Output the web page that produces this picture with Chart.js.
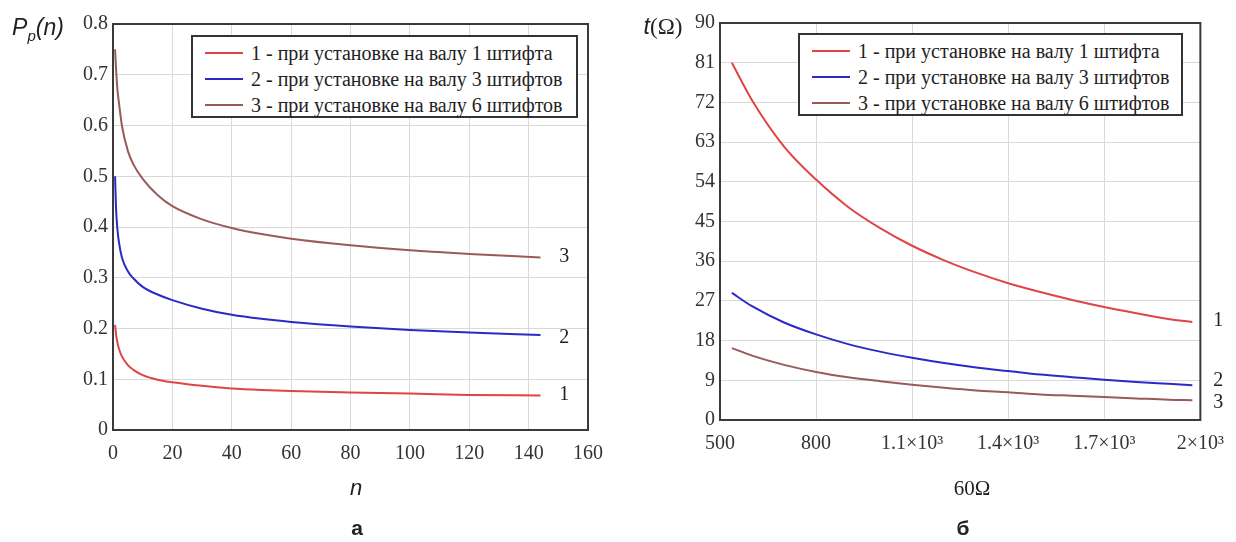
<!DOCTYPE html>
<html>
<head>
<meta charset="utf-8">
<script src="https://cdn.jsdelivr.net/npm/chart.js@4.4.0/dist/chart.umd.min.js"></script>
<style>
    body { margin: 0; background: #fff; width: 1236px; height: 542px; position: relative; overflow: hidden; }
    .wrap { position: absolute; top: 0; height: 542px; }
    .lbl { position: absolute; transform: translate(-50%, -50%); white-space: nowrap; color: #222; }
    .legend { position: absolute; border: 2px solid #333; background: #fff; box-sizing: border-box;
              padding: 3px 0 0 12px; font-family: 'Liberation Serif', serif; font-size: 20px; color: #222; }
    .legend .row { height: 26px; display: flex; align-items: center; }
    .legend .swatch { width: 38px; height: 2px; margin-right: 8px; }
</style>
</head>
<body>
<div class="wrap" style="left:0;width:615px"><canvas id="chartA" width="615" height="542"></canvas></div>
<div class="wrap" style="left:615px;width:621px"><canvas id="chartB" width="621" height="542"></canvas></div>

<div class="legend" id="legendA" style="left:191px;top:35px;width:387px;height:83px"></div>
<div class="legend" id="legendB" style="left:798px;top:33px;width:385px;height:83px"></div>

<div class="lbl" style="left:38px;top:29px;font:italic 23px 'Liberation Sans',sans-serif">P<sub style="font-size:15px">p</sub>(n)</div>
<div class="lbl" style="left:356px;top:488px;font:italic 22px 'Liberation Sans',sans-serif">n</div>
<div class="lbl" style="left:357px;top:528px;font:bold 21px 'Liberation Sans',sans-serif">а</div>

<div class="lbl" style="left:663px;top:26px;font:23px 'Liberation Serif',serif"><i style="font-family:'Liberation Sans',sans-serif">t</i>(Ω)</div>
<div class="lbl" style="left:972px;top:488px;font:21px 'Liberation Serif',serif">60Ω</div>
<div class="lbl" style="left:963px;top:528px;font:bold 21px 'Liberation Sans',sans-serif">б</div>

<script>
// ---- data: chart а (P_p(n)) ----
const nValues = [0.7, 1, 1.5, 2, 3, 5, 7, 10, 15, 20, 30, 40, 50, 60, 80, 100, 120, 144];
const pp1 = [0.207, 0.19, 0.172, 0.16, 0.145, 0.128, 0.118, 0.108, 0.099, 0.094, 0.087, 0.082, 0.079, 0.077, 0.074, 0.072, 0.069, 0.068];
const pp3 = [0.50, 0.44, 0.395, 0.37, 0.34, 0.313, 0.298, 0.282, 0.267, 0.256, 0.239, 0.227, 0.219, 0.213, 0.204, 0.197, 0.192, 0.187];
const pp6 = [0.75, 0.715, 0.67, 0.645, 0.60, 0.55, 0.522, 0.495, 0.463, 0.441, 0.415, 0.398, 0.386, 0.377, 0.364, 0.354, 0.347, 0.340];

// ---- data: chart б (t(Ω)) ----
const omegaValues = [537, 600, 700, 800, 900, 1000, 1100, 1200, 1300, 1400, 1500, 1600, 1700, 1800, 1900, 1975];
const t1 = [81, 72.5, 62, 54.5, 48.3, 43.5, 39.5, 36.2, 33.4, 31.0, 29.0, 27.2, 25.6, 24.2, 22.9, 22.2];
const t3 = [28.8, 25.8, 22.1, 19.4, 17.2, 15.5, 14.1, 12.9, 11.9, 11.1, 10.3, 9.7, 9.1, 8.6, 8.2, 7.9];
const t6 = [16.3, 14.6, 12.5, 10.9, 9.7, 8.8, 8.0, 7.3, 6.7, 6.3, 5.8, 5.5, 5.2, 4.9, 4.6, 4.5];

const seriesLabels = [
    '1 - при установке на валу 1 штифта',
    '2 - при установке на валу 3 штифтов',
    '3 - при установке на валу 6 штифтов'
];
const seriesColors = ['#e04444', '#2a2ac8', '#9a5a5a'];
const curveNames = ['1', '2', '3'];

const tickFont = { family: "'Liberation Serif', serif", size: 20 };
const gridColor = '#d9d9d9';

function toPoints(xs, ys) {
    return xs.map((x, i) => ({ x: x, y: ys[i] }));
}

function makeDatasets(xs, seriesList) {
    return seriesList.map((ys, i) => ({
        label: seriesLabels[i],
        data: toPoints(xs, ys),
        borderColor: seriesColors[i],
        borderWidth: 2,
        pointRadius: 0,
        cubicInterpolationMode: 'monotone',
        fill: false
    }));
}

// dark frame around the plot area
const framePlugin = {
    id: 'frame',
    beforeDatasetsDraw(chart) {
        const a = chart.chartArea;
        const ctx = chart.ctx;
        ctx.save();
        ctx.strokeStyle = '#3a3a3a';
        ctx.lineWidth = 2;
        ctx.strokeRect(a.left, a.top, a.right - a.left, a.bottom - a.top);
        ctx.restore();
    }
};

// curve numbers next to line ends
const curveNumberPlugin = {
    id: 'curveNumbers',
    afterDraw(chart, args, opts) {
        const ctx = chart.ctx;
        const xs = chart.scales.x;
        const ys = chart.scales.y;
        ctx.save();
        ctx.font = "20px 'Liberation Serif', serif";
        ctx.fillStyle = '#222';
        ctx.textAlign = 'center';
        ctx.textBaseline = 'middle';
        opts.anchorsY.forEach((v, i) => {
            ctx.fillText(curveNames[i], xs.getPixelForValue(opts.anchorX), ys.getPixelForValue(v));
        });
        ctx.restore();
    }
};

function buildChart(canvasId, datasets, cfg) {
    const ctx = document.getElementById(canvasId).getContext('2d');
    return new Chart(ctx, {
        type: 'line',
        data: { datasets: datasets },
        options: {
            responsive: false,
            animation: false,
            events: [],
            layout: { padding: cfg.padding },
            plugins: {
                legend: { display: false },
                tooltip: { enabled: false },
                curveNumbers: cfg.numbers
            },
            scales: {
                x: {
                    type: 'linear',
                    min: cfg.xMin, max: cfg.xMax,
                    afterFit: s => { s.height = cfg.xAxisHeight; },
                    afterBuildTicks: s => { s.ticks = cfg.xTicks.map(v => ({ value: v })); },
                    grid: { color: gridColor, drawTicks: false },
                    border: { display: false },
                    ticks: { font: tickFont, color: '#333', padding: 12, maxRotation: 0, autoSkip: false, callback: cfg.xFormat }
                },
                y: {
                    min: cfg.yMin, max: cfg.yMax,
                    afterFit: s => { s.width = cfg.yAxisWidth; },
                    afterBuildTicks: s => { s.ticks = cfg.yTicks.map(v => ({ value: v })); },
                    grid: { color: gridColor, drawTicks: false },
                    border: { display: false },
                    ticks: { font: tickFont, color: '#333', padding: 5, autoSkip: false, callback: cfg.yFormat }
                }
            }
        },
        plugins: [framePlugin, curveNumberPlugin]
    });
}

function fillLegend(id) {
    const box = document.getElementById(id);
    seriesLabels.forEach((text, i) => {
        const row = document.createElement('div');
        row.className = 'row';
        const sw = document.createElement('span');
        sw.className = 'swatch';
        sw.style.background = seriesColors[i];
        const tx = document.createElement('span');
        tx.textContent = text;
        row.appendChild(sw);
        row.appendChild(tx);
        box.appendChild(row);
    });
}

// Chart а
buildChart('chartA', makeDatasets(nValues, [pp1, pp3, pp6]), {
    padding: { left: 0, right: 22, top: 24, bottom: 0 },
    xAxisHeight: 112, yAxisWidth: 113,
    xMin: 0, xMax: 160, xTicks: [0, 20, 40, 60, 80, 100, 120, 140, 160],
    yMin: 0, yMax: 0.8, yTicks: [0, 0.1, 0.2, 0.3, 0.4, 0.5, 0.6, 0.7, 0.8],
    xFormat: v => String(v),
    yFormat: v => String(+v.toFixed(1)),
    numbers: { anchorX: 152, anchorsY: [0.069, 0.181, 0.341] }
});

// Chart б
buildChart('chartB', makeDatasets(omegaValues, [t1, t3, t6]), {
    padding: { left: 0, right: 34, top: 23, bottom: 0 },
    xAxisHeight: 122, yAxisWidth: 105,
    xMin: 500, xMax: 2000, xTicks: [500, 800, 1100, 1400, 1700, 2000],
    yMin: 0, yMax: 90, yTicks: [0, 9, 18, 27, 36, 45, 54, 63, 72, 81, 90],
    xFormat: v => v >= 1000 ? (v / 1000) + '×10³' : String(v),
    yFormat: v => String(v),
    numbers: { anchorX: 2056, anchorsY: [22.6, 9.0, 3.8] }
});

fillLegend('legendA');
fillLegend('legendB');
</script>
</body>
</html>
